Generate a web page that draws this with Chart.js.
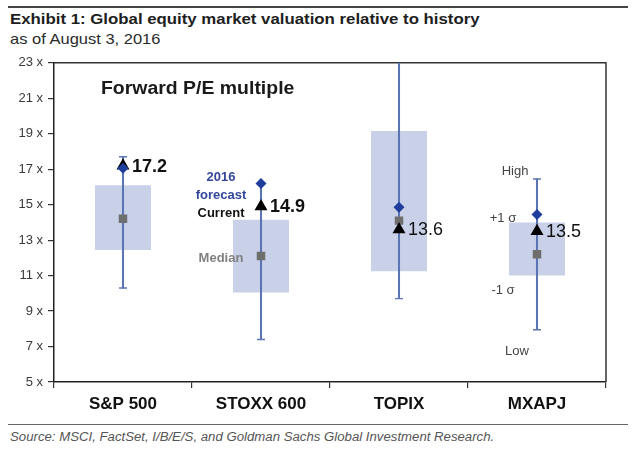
<!DOCTYPE html>
<html>
<head>
<meta charset="utf-8">
<script src="https://cdn.jsdelivr.net/npm/chart.js@4"></script>
<style>
html,body{margin:0;padding:0;background:#fff;width:640px;height:455px;overflow:hidden;font-family:"Liberation Sans",Arial,sans-serif;}
.rule{position:absolute;left:8px;width:620px;}
.txt{position:absolute;white-space:nowrap;transform-origin:0 50%;transform:scaleX(1.1);}
#t1{left:10px;top:10px;font-weight:bold;font-size:15px;color:#1e1e1e;transform:scaleX(1.12);}
#t2{left:10px;top:30px;font-size:15px;color:#2a2a2a;}
#src{left:10px;top:430px;font-size:12px;font-style:italic;color:#555;}
#fwd{left:101px;top:78px;font-weight:bold;font-size:18px;color:#1a1a1a;transform:scaleX(1.08);}
#wrap{position:absolute;left:0;top:50px;width:640px;height:370px;}
</style>
</head>
<body>
<div class="rule" style="top:6px;height:2px;background:#444;"></div>
<div class="txt" id="t1">Exhibit 1: Global equity market valuation relative to history</div>
<div class="txt" id="t2">as of August 3, 2016</div>
<div id="wrap"><canvas id="c"></canvas></div>
<div class="txt" id="fwd">Forward P/E multiple</div>
<div class="rule" style="top:424px;height:1px;background:#666;"></div>
<div class="txt" id="src">Source: MSCI, FactSet, I/B/E/S, and Goldman Sachs Global Investment Research.</div>
<script>
// ---- data ----
const categories   = ['S&P 500', 'STOXX 600', 'TOPIX', 'MXAPJ'];
const highValues   = [17.7, 16.2, 24.0, 16.45];
const lowValues    = [10.3, 7.4, 9.7, 7.95];
const plusSigma    = [16.1, 14.15, 19.15, 14.0];
const minusSigma   = [12.45, 10.05, 11.25, 11.0];
const medianValues = [14.2, 12.1, 14.1, 12.2];
const forecast2016 = [17.05, 16.2, 14.85, 14.45];
const currentValues= [17.2, 14.9, 13.6, 13.5];
const yTickValues  = [5, 7, 9, 11, 13, 15, 17, 19, 21, 23];

const FONT = '"Liberation Sans", Arial, sans-serif';
const WHISKER = '#5a74b4';

const annotations = {
  id: 'annotations',
  beforeDatasetsDraw(chart) {
    const {ctx, chartArea: a} = chart;
    ctx.save();
    ctx.strokeStyle = '#333';
    ctx.lineWidth = 1.5;
    ctx.beginPath();
    ctx.moveTo(a.left, a.top);
    ctx.lineTo(a.right, a.top);
    ctx.lineTo(a.right, a.bottom);
    ctx.stroke();
    ctx.restore();
  },
  afterDatasetsDraw(chart) {
    const {ctx, scales: {x, y}} = chart;
    ctx.save();
    ctx.textBaseline = 'middle';
    // value labels beside the current markers
    currentValues.forEach((v, i) => {
      ctx.font = (i < 2 ? 'bold ' : '') + '18px ' + FONT;
      ctx.fillStyle = '#111';
      ctx.textAlign = 'left';
      ctx.fillText(v.toFixed(1), x.getPixelForValue(i) + 9, y.getPixelForValue(v) + 1);
    });
    // legend-like labels at STOXX 600
    const sx = x.getPixelForValue(1) - 40;
    ctx.textAlign = 'center';
    ctx.font = 'bold 13px ' + FONT;
    ctx.fillStyle = '#33479c';
    ctx.fillText('2016', sx, y.getPixelForValue(forecast2016[1]) - 6);
    ctx.fillText('forecast', sx, y.getPixelForValue(forecast2016[1]) + 12);
    ctx.fillStyle = '#111';
    ctx.fillText('Current', sx, y.getPixelForValue(currentValues[1]) + 7);
    ctx.fillStyle = '#808080';
    ctx.fillText('Median', sx, y.getPixelForValue(medianValues[1]) + 2);
    // range labels at MXAPJ
    const mx = x.getPixelForValue(3);
    ctx.font = '13px ' + FONT;
    ctx.fillStyle = '#444';
    ctx.fillText('High', mx - 22, y.getPixelForValue(highValues[3]) - 8);
    ctx.fillText('+1 σ', mx - 34, y.getPixelForValue(plusSigma[3]) - 4);
    ctx.fillText('-1 σ', mx - 34, y.getPixelForValue(minusSigma[3]) + 15);
    ctx.fillText('Low', mx - 20, y.getPixelForValue(lowValues[3]) + 22);
    ctx.restore();
  }
};

new Chart(document.getElementById('c'), {
  type: 'bar',
  data: {
    labels: categories,
    datasets: [
      {
        label: '±1σ', type: 'bar', order: 10, grouped: false,
        data: minusSigma.map((v, i) => [v, plusSigma[i]]),
        backgroundColor: '#c8d1e7', borderWidth: 0,
        barPercentage: 0.406, categoryPercentage: 1
      },
      {
        label: 'range', type: 'bar', order: 9, grouped: false,
        data: lowValues.map((v, i) => [v, highValues[i]]),
        backgroundColor: WHISKER, borderWidth: 0, barThickness: 1.4
      },
      {
        label: 'high', type: 'line', order: 8, showLine: false,
        data: highValues, pointStyle: 'line', pointRadius: 4,
        pointBorderWidth: 1.4, pointBorderColor: WHISKER, pointBackgroundColor: WHISKER
      },
      {
        label: 'low', type: 'line', order: 8, showLine: false,
        data: lowValues, pointStyle: 'line', pointRadius: 4,
        pointBorderWidth: 1.4, pointBorderColor: WHISKER, pointBackgroundColor: WHISKER
      },
      {
        label: 'Median', type: 'line', order: 3, showLine: false,
        data: medianValues, pointStyle: 'rect', pointRadius: 6,
        pointBorderWidth: 0, pointBackgroundColor: '#6e6e6e', pointBorderColor: '#6e6e6e'
      },
      {
        label: 'Current', type: 'line', order: 2, showLine: false,
        data: currentValues, pointStyle: 'triangle', pointRadius: 7.5,
        pointBorderWidth: 0, pointBackgroundColor: '#000', pointBorderColor: '#000'
      },
      {
        label: '2016 forecast', type: 'line', order: 1, showLine: false,
        data: forecast2016, pointStyle: 'rectRot', pointRadius: 5.5,
        pointBorderWidth: 0, pointBackgroundColor: '#1f3d9c', pointBorderColor: '#1f3d9c'
      }
    ]
  },
  options: {
    responsive: true,
    maintainAspectRatio: false,
    animation: false,
    events: [],
    layout: {padding: {top: 10, right: 34, left: 0, bottom: 0}},
    plugins: {legend: {display: false}, tooltip: {enabled: false}, title: {display: false}},
    scales: {
      x: {
        type: 'category', offset: true,
        grid: {offset: true, drawOnChartArea: false, drawTicks: true, tickLength: 6, color: '#333', lineWidth: 1.2},
        border: {display: true, color: '#222', width: 1.5},
        ticks: {font: {family: FONT, size: 17, weight: 'bold'}, color: '#111', padding: 6, maxRotation: 0},
        afterFit: s => { s.height = 38; }
      },
      y: {
        min: 5, max: 23,
        afterBuildTicks: s => { s.ticks = yTickValues.map(v => ({value: v})); },
        grid: {drawOnChartArea: false, drawTicks: true, tickLength: 6, color: '#333', lineWidth: 1.2},
        border: {display: true, color: '#222', width: 1.5},
        ticks: {font: {family: FONT, size: 13}, color: '#3a3a3a', padding: 5, callback: v => v + ' x'},
        afterFit: s => { s.width = 54; }
      }
    }
  },
  plugins: [annotations]
});
</script>
</body>
</html>
